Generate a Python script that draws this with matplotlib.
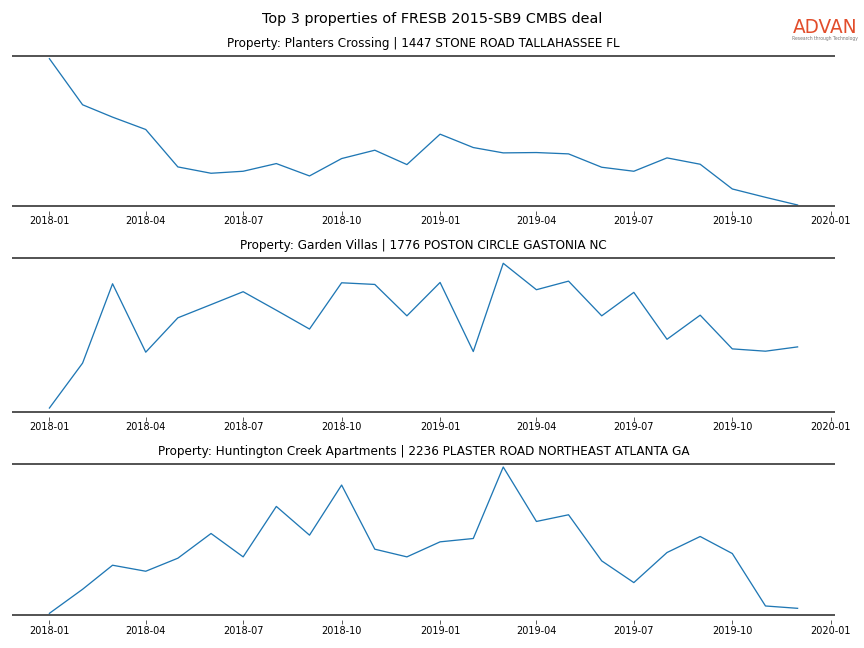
import matplotlib
matplotlib.use("Agg")
import matplotlib.pyplot as plt
import matplotlib.dates as mdates
import pandas as pd

months = pd.date_range("2018-01-01", "2019-12-01", freq="MS")

titles = [
    "Property: Planters Crossing | 1447 STONE ROAD TALLAHASSEE FL",
    "Property: Garden Villas | 1776 POSTON CIRCLE GASTONIA NC",
    "Property: Huntington Creek Apartments | 2236 PLASTER ROAD NORTHEAST ATLANTA GA",
]

planters = [441, 303, 266, 229, 117, 98, 104, 127, 90, 142, 167, 124,
            215, 175, 159, 160, 156, 116, 104, 144, 125, 51, 26, 3]
garden = [12, 148, 388, 181, 285, 325, 364, 308, 251, 391, 386, 291,
          392, 183, 450, 370, 396, 291, 362, 220, 293, 191, 184, 197]
huntington = [5, 77, 149, 131, 170, 244, 174, 325, 239, 389, 197, 174,
              219, 229, 443, 280, 300, 162, 97, 187, 235, 184, 27, 20]

series = [planters, garden, huntington]
ytops = [449, 466, 452]

W, H = 864, 648
fig = plt.figure(figsize=(12, 9), dpi=72)

boxes = [(56, 206), (258, 412), (464, 615)]
left_px, right_px = 12, 835
gap = 5  # px between rule line and tick marks

for (top, bot), vals, title, ytop in zip(boxes, series, titles, ytops):
    h = bot + gap - top
    ax = fig.add_axes([left_px / W, 1 - (bot + gap) / H, (right_px - left_px) / W, h / H])
    ax.plot(months, vals, color="#1f77b4", lw=1.3)
    scale = ytop / (bot - top)
    ax.set_ylim(-gap * scale, ytop)
    ax.margins(x=0.05)
    ax.set_yticks([])
    for s in ax.spines.values():
        s.set_visible(False)
    for yf in (1.0, gap / h):
        ax.plot([0, 1], [yf, yf], transform=ax.transAxes, color="#444444",
                lw=1.8, clip_on=False, solid_capstyle="butt")
    ax.xaxis.set_major_locator(mdates.MonthLocator(bymonth=[1, 4, 7, 10]))
    ax.xaxis.set_major_formatter(mdates.DateFormatter("%Y-%m"))
    ax.tick_params(axis="x", labelsize=9.8, length=4, width=0.8, color="#333333", pad=1.5)
    ax.set_title(title, fontsize=12, pad=9)

fig.suptitle("Top 3 properties of FRESB 2015-SB9 CMBS deal", fontsize=14.4, y=1 - 19 / H, va="center")

fig.text(825 / W, 1 - 27.5 / H, "ADVAN", color="#e24d2b", fontsize=18.5, ha="center", va="center")
fig.text(824.5 / W, 1 - 38.5 / H, "Research through Technology", color="#777777", fontsize=4.5,
         ha="center", va="center")

fig.savefig("out.png", dpi=72)
